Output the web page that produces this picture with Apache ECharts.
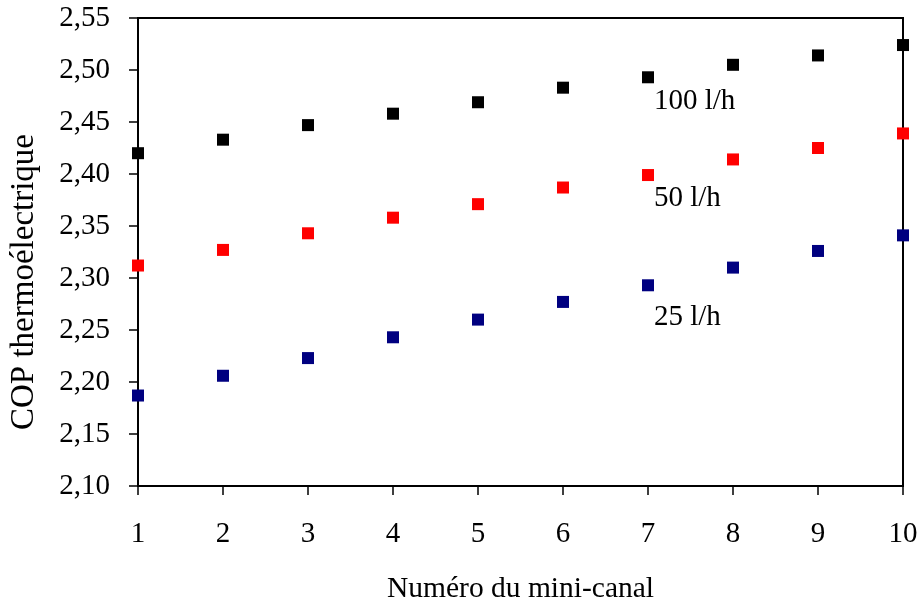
<!DOCTYPE html>
<html>

<head>
    <meta charset="utf-8">
    <script type="text/javascript" src="https://cdn.jsdelivr.net/npm/echarts@6/dist/echarts.min.js"></script>
    <title>COP thermoélectrique</title>
</head>

<body style="margin:0">
    <div id="container" style="width:921px;height:607px;"></div>
    <script type="text/javascript">
    // numéro du mini-canal
    var canaux = [1, 2, 3, 4, 5, 6, 7, 8, 9, 10];
    // COP, par débit
    var cop100 = [2.420, 2.433, 2.447, 2.458, 2.469, 2.483, 2.493, 2.505, 2.514, 2.524];
    var cop50 = [2.312, 2.327, 2.343, 2.358, 2.371, 2.387, 2.399, 2.414, 2.425, 2.439];
    var cop25 = [2.187, 2.206, 2.223, 2.243, 2.260, 2.277, 2.293, 2.310, 2.326, 2.341];
    var labels = ['100 l/h', '50 l/h', '25 l/h'];

    var police = 'Liberation Serif, Times New Roman, serif';

    function points(vals, txt, offY) {
        return vals.map(function(v, i) {
            var p = { value: [canaux[i], v] };
            // étiquette posée sous le point du canal 7
            if (canaux[i] === 7) {
                p.label = {
                    show: true,
                    formatter: txt,
                    position: [12, offY],
                    color: '#000',
                    fontFamily: police,
                    fontSize: 29
                };
            }
            return p;
        });
    }

    var myChart = echarts.init(document.getElementById('container'));

    var option = {
        animation: false,
        backgroundColor: '#fff',
        grid: {
            left: 138,
            right: 18,
            top: 18,
            bottom: 121,
            outerBoundsMode: 'none',
            show: true,
            borderColor: '#000',
            borderWidth: 2
        },
        xAxis: {
            type: 'value',
            min: 1,
            max: 10,
            interval: 1,
            name: 'Numéro du mini-canal',
            nameLocation: 'middle',
            nameGap: 88,
            nameTextStyle: { color: '#000', fontFamily: police, fontSize: 29.5 },
            axisLine: { lineStyle: { color: '#000', width: 2 } },
            axisTick: { length: 9, lineStyle: { color: '#000', width: 1.5 } },
            axisLabel: { margin: 34, color: '#000', fontFamily: police, fontSize: 29 },
            splitLine: { show: false }
        },
        yAxis: {
            type: 'value',
            min: 2.10,
            max: 2.55,
            interval: 0.05,
            name: 'COP thermoélectrique',
            nameLocation: 'middle',
            nameGap: 97,
            // titre un peu plus bas que le milieu de l'axe
            nameTextStyle: { color: '#000', fontFamily: police, fontSize: 33, padding: [0, 60, 0, 0] },
            axisLine: { show: true, lineStyle: { color: '#000', width: 2 } },
            axisTick: { show: true, length: 9, lineStyle: { color: '#000', width: 1.5 } },
            axisLabel: {
                margin: 28,
                color: '#000',
                fontFamily: police,
                fontSize: 29,
                formatter: function(v) { return v.toFixed(2).replace('.', ','); }
            },
            splitLine: { show: false }
        },
        series: [{
            name: labels[0],
            type: 'scatter',
            symbol: 'rect',
            symbolSize: 12,
            itemStyle: { color: '#000000', opacity: 1 },
            data: points(cop100, labels[0], 16)
        }, {
            name: labels[1],
            type: 'scatter',
            symbol: 'rect',
            symbolSize: 12,
            itemStyle: { color: '#ff0000', opacity: 1 },
            data: points(cop50, labels[1], 15)
        }, {
            name: labels[2],
            type: 'scatter',
            symbol: 'rect',
            symbolSize: 12,
            itemStyle: { color: '#000080', opacity: 1 },
            data: points(cop25, labels[2], 24)
        }]
    };

    myChart.setOption(option);
    </script>
</body>

</html>
